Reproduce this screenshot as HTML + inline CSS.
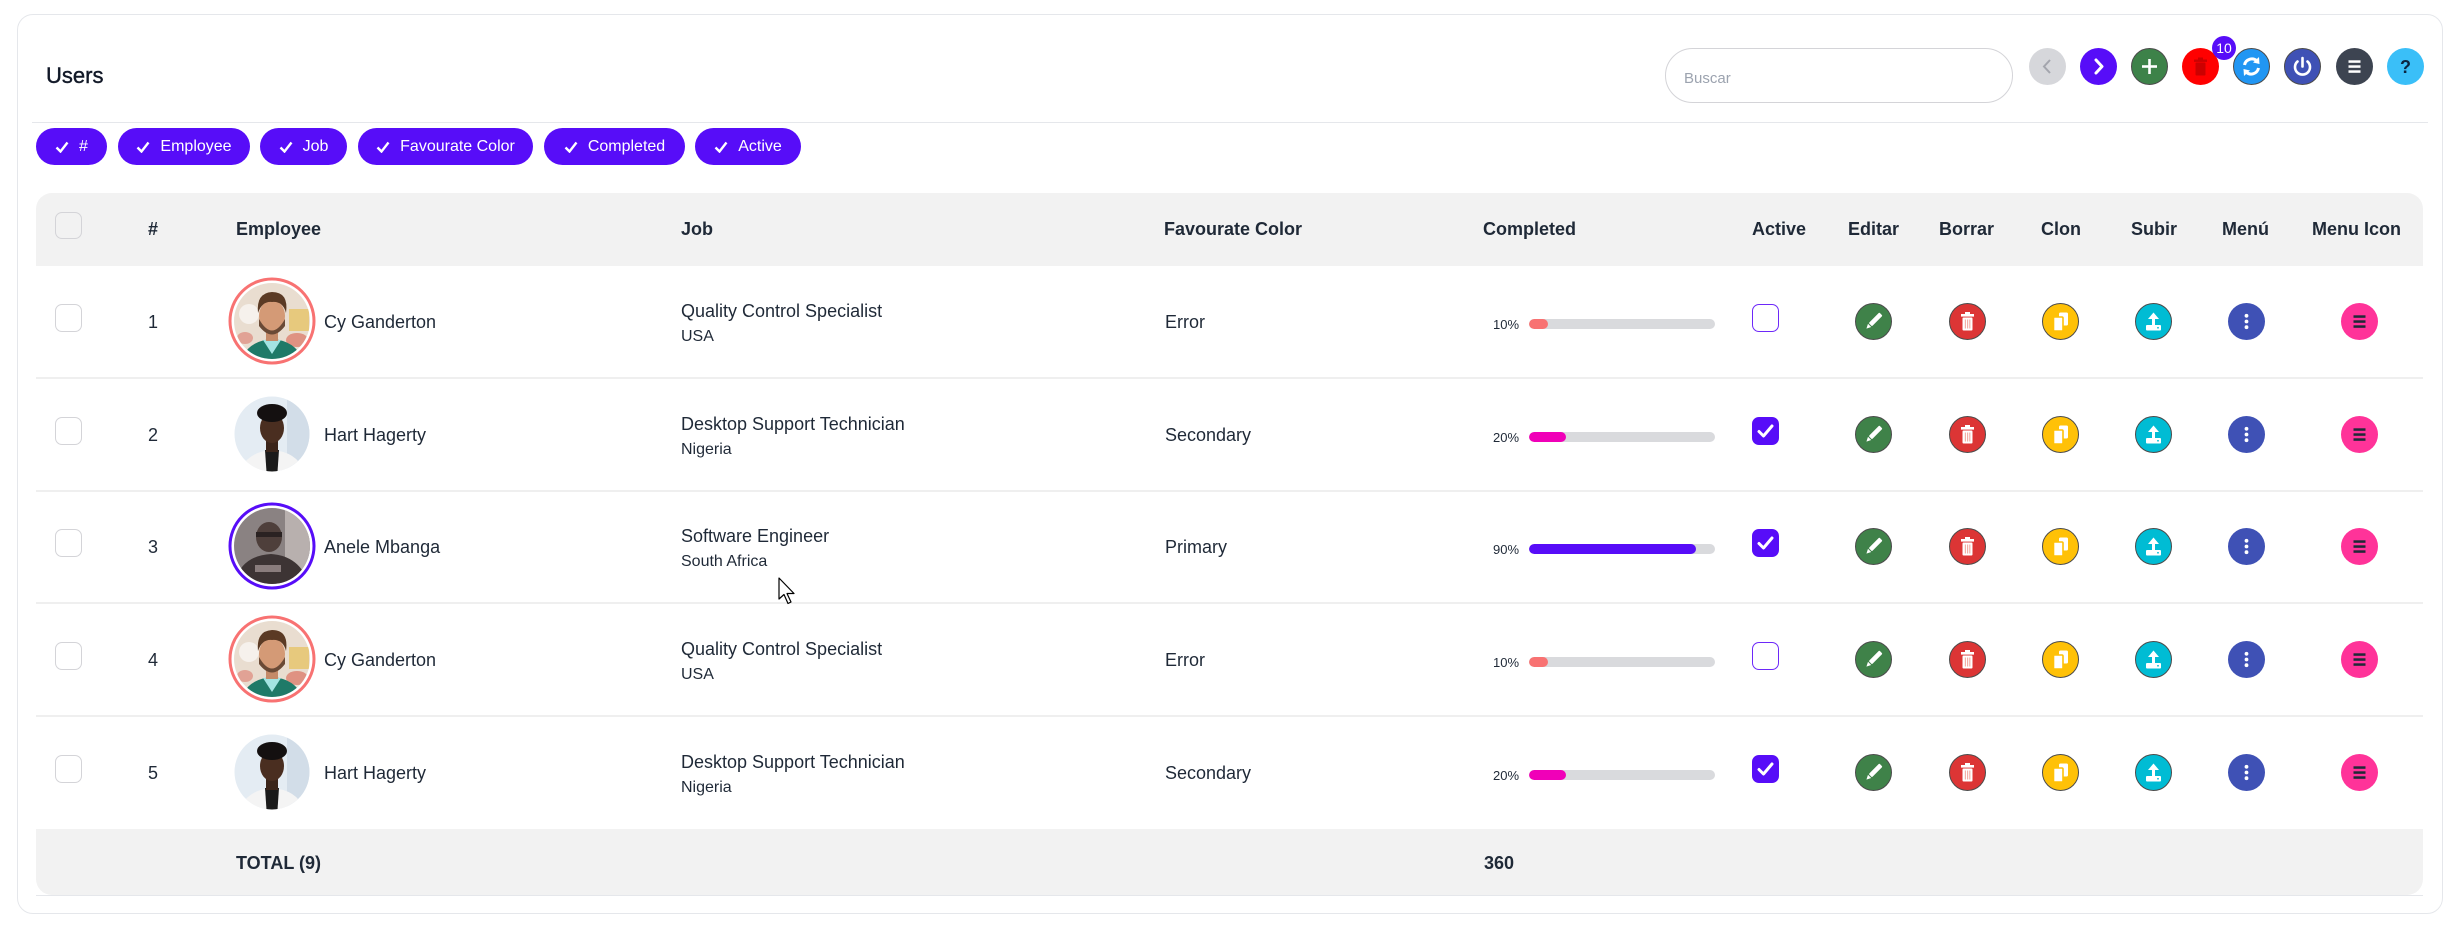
<!DOCTYPE html>
<html><head><meta charset="utf-8">
<style>
*{margin:0;padding:0;box-sizing:border-box}
html,body{width:2453px;height:929px;background:#fff;overflow:hidden}
body{font-family:"Liberation Sans",sans-serif;color:#1f2937;position:relative}
.a{position:absolute}
.t{position:absolute;line-height:1;white-space:nowrap}
.card{left:17px;top:14px;width:2426px;height:900px;border:1px solid #e5e7eb;border-radius:16px}
.chip{position:absolute;top:128px;height:37px;border-radius:19px;background:#570df8;color:#fff;font-size:16px;display:flex;align-items:center;justify-content:center;gap:10px;line-height:1}
.hd{font-size:18px;font-weight:bold;top:220px}
.row{position:absolute;left:0;width:2453px;height:113px}
.cb{position:absolute;left:55px;top:38px;width:27px;height:28px;border:1px solid #d4d4d8;border-radius:7px;background:#fff}
.acb{position:absolute;left:1752px;top:38px;width:27px;height:28px;border:1.5px solid #6d28f9;border-radius:7px;background:#fff}
.acb.on{background:#570df8;border-color:#570df8}
.r18{font-size:18px}
.bar{position:absolute;left:1529px;top:53px;width:186px;height:10px;border-radius:5px;background:#d9dadd;overflow:hidden}
.bar i{display:block;height:100%;border-radius:5px}
.sep{position:absolute;left:36px;width:2387px;height:2px;background:#efefef}
.ic{position:absolute;top:37px;width:37px;height:37px}
</style></head><body>
<svg width="0" height="0" style="position:absolute">
<defs>
<symbol id="ed" viewBox="0 0 37 37"><circle cx="18.5" cy="18.5" r="18" fill="#3f8249" stroke="#4b4b4b" stroke-width="1"/><g transform="rotate(45 18.5 18.5)"><rect x="16.2" y="8" width="4.6" height="15" rx="1" fill="#fff"/><polygon points="16.2,24 20.8,24 18.5,28.5" fill="#fff"/></g></symbol>
<symbol id="dl" viewBox="0 0 37 37"><circle cx="18.5" cy="18.5" r="18" fill="#dc3535" stroke="#4b4b4b" stroke-width="1"/><rect x="16" y="9" width="5" height="2.5" fill="#fff"/><rect x="12" y="11" width="13" height="2.6" fill="#fff"/><rect x="13.5" y="14.5" width="10" height="13" rx="1" fill="#fff"/><rect x="15.8" y="16.5" width="1.2" height="9" fill="#f3b1a8"/><rect x="18" y="16.5" width="1.2" height="9" fill="#f3b1a8"/><rect x="20.2" y="16.5" width="1.2" height="9" fill="#f3b1a8"/></symbol>
<symbol id="cl" viewBox="0 0 37 37"><circle cx="18.5" cy="18.5" r="18" fill="#ffc107" stroke="#4b4b4b" stroke-width="1"/><rect x="17" y="9.5" width="9" height="13" rx="1.5" fill="#fff"/><rect x="11.5" y="14" width="9.5" height="14" rx="1" fill="#fff" stroke="#ffc107" stroke-width="1.6"/></symbol>
<symbol id="up" viewBox="0 0 37 37"><circle cx="18.5" cy="18.5" r="18" fill="#00bcd4" stroke="#4b4b4b" stroke-width="1"/><polygon points="13,16 18.5,9.5 24,16" fill="#fff"/><rect x="17" y="14" width="3" height="8.5" fill="#fff"/><rect x="11" y="22" width="15" height="5.5" rx="1" fill="#fff"/><circle cx="23" cy="24.8" r="0.9" fill="#00bcd4"/></symbol>
<symbol id="mn" viewBox="0 0 37 37"><circle cx="18.5" cy="18.5" r="18.5" fill="#3f51b5"/><circle cx="18.5" cy="12.8" r="1.9" fill="#fff"/><circle cx="18.5" cy="18.5" r="1.9" fill="#fff"/><circle cx="18.5" cy="24.2" r="1.9" fill="#fff"/></symbol>
<symbol id="mi" viewBox="0 0 37 37"><circle cx="18.5" cy="18.5" r="18.5" fill="#ff3399"/><rect x="12.5" y="12.3" width="12" height="2.5" fill="#1f2937"/><rect x="12.5" y="17.3" width="12" height="2.5" fill="#1f2937"/><rect x="12.5" y="22.3" width="12" height="2.5" fill="#1f2937"/></symbol>
<symbol id="ck" viewBox="0 0 27 28"><polyline points="7,14.5 11.5,19 20,9" fill="none" stroke="#fff" stroke-width="3" stroke-linecap="round" stroke-linejoin="round"/></symbol>
<clipPath id="cp1"><circle cx="45" cy="45" r="38"/></clipPath>
<clipPath id="cp2"><circle cx="45" cy="45" r="37.5"/></clipPath>
<symbol id="av1" viewBox="0 0 90 90"><g clip-path="url(#cp1)"><rect width="90" height="90" fill="#e9ddd0"/><circle cx="22" cy="38" r="10" fill="#f6f1ec"/><rect x="62" y="33" width="20" height="22" fill="#e6c261" opacity=".75"/><ellipse cx="70" cy="64" rx="11" ry="7" fill="#d8604e" opacity=".6"/><ellipse cx="18" cy="62" rx="8" ry="6" fill="#d9685a" opacity=".5"/><path d="M12 90 Q18 65 45 63 Q72 65 78 90Z" fill="#1f7a68"/><path d="M36 64 L45 78 L54 64Z" fill="#a3e4e2"/><rect x="39" y="50" width="12" height="15" fill="#c48a68"/><ellipse cx="45" cy="40" rx="13" ry="16" fill="#d49a76"/><path d="M32 43 Q45 66 58 43 L58 50 Q45 67 32 50Z" fill="#6a4a36"/><path d="M31 37 Q29 17 45 16 Q62 16 59 37 Q56 25 45 26 Q35 25 31 37Z" fill="#5b3a24"/></g></symbol>
<symbol id="av2" viewBox="0 0 90 90"><g clip-path="url(#cp2)"><rect width="90" height="90" fill="#e4ecf3"/><rect x="60" y="0" width="30" height="90" fill="#d2dde8"/><path d="M10 90 Q16 63 45 61 Q74 63 80 90Z" fill="#f4f4f4"/><path d="M38 61 L52 61 L50 90 L40 90Z" fill="#1a1a1a"/><rect x="39" y="48" width="12" height="15" fill="#3b251a"/><ellipse cx="45" cy="39" rx="12" ry="15" fill="#4a2e20"/><ellipse cx="45" cy="24" rx="15" ry="9" fill="#141010"/></g></symbol>
<symbol id="av3" viewBox="0 0 90 90"><g clip-path="url(#cp1)"><rect width="90" height="90" fill="#8a8282"/><rect x="58" y="0" width="32" height="90" fill="#b8b0ae"/><path d="M6 90 Q10 55 44 53 Q76 55 84 90Z" fill="#3d3434"/><rect x="28" y="64" width="26" height="7" fill="#8a7d7d"/><ellipse cx="42" cy="36" rx="13" ry="15" fill="#4e3f3b"/><rect x="29" y="31" width="26" height="5" fill="#2a2222"/></g></symbol>
</defs></svg>

<div class="a card"></div>
<div class="t" style="left:46px;top:65px;font-size:22px;color:#111827;-webkit-text-stroke:0.4px #111827">Users</div>

<div class="a" style="left:1665px;top:48px;width:348px;height:55px;border:1px solid #d4d4d8;border-radius:28px"></div>
<div class="t" style="left:1684px;top:71px;font-size:15px;color:#9ca3af">Buscar</div>

<svg class="a" style="left:2029px;top:48px" width="37" height="37" viewBox="0 0 37 37"><circle cx="18.5" cy="18.5" r="18.5" fill="#d6d7db"/><polyline points="21,12 15,18.5 21,25" fill="none" stroke="#a3a5ad" stroke-width="2"/></svg>
<svg class="a" style="left:2080px;top:48px" width="37" height="37" viewBox="0 0 37 37"><circle cx="18.5" cy="18.5" r="18.5" fill="#570df8"/><polyline points="16,12 22,18.5 16,25" fill="none" stroke="#fff" stroke-width="3" stroke-linecap="round" stroke-linejoin="round"/></svg>
<svg class="a" style="left:2131px;top:48px" width="37" height="37" viewBox="0 0 37 37"><circle cx="18.5" cy="18.5" r="18" fill="#3d8249" stroke="#4b4b4b" stroke-width="1"/><rect x="17.2" y="11" width="2.6" height="15" fill="#fff"/><rect x="11" y="17.2" width="15" height="2.6" fill="#fff"/></svg>
<svg class="a" style="left:2182px;top:48px" width="37" height="37" viewBox="0 0 37 37"><circle cx="18.5" cy="18.5" r="18.5" fill="#ff0000"/><rect x="16" y="9.5" width="5" height="2" fill="#cc0000"/><rect x="12" y="11.5" width="13" height="2.4" fill="#cc0000"/><rect x="13.5" y="14.5" width="10" height="13" rx="1" fill="#cc0000"/></svg>
<svg class="a" style="left:2233px;top:48px" width="37" height="37" viewBox="0 0 37 37"><circle cx="18.5" cy="18.5" r="18" fill="#2196f3" stroke="#4b4b4b" stroke-width="1"/><path d="M11.5 17 A7.5 7.5 0 0 1 24 13" fill="none" stroke="#fff" stroke-width="3"/><polygon points="26,9 26.5,16 20,14.5" fill="#fff"/><path d="M25.5 20 A7.5 7.5 0 0 1 13 24" fill="none" stroke="#fff" stroke-width="3"/><polygon points="11,28 10.5,21 17,22.5" fill="#fff"/></svg>
<svg class="a" style="left:2284px;top:48px" width="37" height="37" viewBox="0 0 37 37"><circle cx="18.5" cy="18.5" r="18" fill="#3f51b5" stroke="#4b4b4b" stroke-width="1"/><path d="M13.5 13.5 A7.5 7.5 0 1 0 23.5 13.5" fill="none" stroke="#fff" stroke-width="2.6" stroke-linecap="round"/><line x1="18.5" y1="10" x2="18.5" y2="18.5" stroke="#fff" stroke-width="2.6" stroke-linecap="round"/></svg>
<svg class="a" style="left:2336px;top:48px" width="37" height="37" viewBox="0 0 37 37"><circle cx="18.5" cy="18.5" r="18.5" fill="#3d4451"/><rect x="12.5" y="12.3" width="12" height="2.5" fill="#fff"/><rect x="12.5" y="17.3" width="12" height="2.5" fill="#fff"/><rect x="12.5" y="22.3" width="12" height="2.5" fill="#fff"/></svg>
<svg class="a" style="left:2387px;top:48px" width="37" height="37" viewBox="0 0 37 37"><circle cx="18.5" cy="18.5" r="18.5" fill="#3abff8"/><text x="18.5" y="25" text-anchor="middle" font-family="Liberation Sans" font-weight="bold" font-size="18" fill="#0b2540">?</text></svg>
<div class="a" style="left:2212px;top:36px;width:24px;height:24px;border-radius:12px;background:#570df8;color:#fff;font-size:14px;line-height:24px;text-align:center">10</div>

<div class="a" style="left:32px;top:122px;width:2396px;height:1px;background:#e5e7eb"></div>

<div class="chip" style="left:36px;width:71px"><svg width="14" height="12" viewBox="0 0 14 12"><polyline points="1.5,6.5 5.5,10.5 12.5,1.5" fill="none" stroke="#fff" stroke-width="2.4"/></svg><span>#</span></div>
<div class="chip" style="left:118px;width:132px"><svg width="14" height="12" viewBox="0 0 14 12"><polyline points="1.5,6.5 5.5,10.5 12.5,1.5" fill="none" stroke="#fff" stroke-width="2.4"/></svg><span>Employee</span></div>
<div class="chip" style="left:260px;width:87px"><svg width="14" height="12" viewBox="0 0 14 12"><polyline points="1.5,6.5 5.5,10.5 12.5,1.5" fill="none" stroke="#fff" stroke-width="2.4"/></svg><span>Job</span></div>
<div class="chip" style="left:358px;width:175px"><svg width="14" height="12" viewBox="0 0 14 12"><polyline points="1.5,6.5 5.5,10.5 12.5,1.5" fill="none" stroke="#fff" stroke-width="2.4"/></svg><span>Favourate Color</span></div>
<div class="chip" style="left:544px;width:141px"><svg width="14" height="12" viewBox="0 0 14 12"><polyline points="1.5,6.5 5.5,10.5 12.5,1.5" fill="none" stroke="#fff" stroke-width="2.4"/></svg><span>Completed</span></div>
<div class="chip" style="left:695px;width:106px"><svg width="14" height="12" viewBox="0 0 14 12"><polyline points="1.5,6.5 5.5,10.5 12.5,1.5" fill="none" stroke="#fff" stroke-width="2.4"/></svg><span>Active</span></div>

<!-- table header -->
<div class="a" style="left:36px;top:193px;width:2387px;height:73px;background:#f2f2f2;border-radius:16px 16px 0 0"></div>
<div class="a" style="left:55px;top:212px;width:27px;height:27px;border:1px solid #d4d4d8;border-radius:7px"></div>
<div class="t hd" style="left:148px">#</div>
<div class="t hd" style="left:236px">Employee</div>
<div class="t hd" style="left:681px">Job</div>
<div class="t hd" style="left:1164px">Favourate Color</div>
<div class="t hd" style="left:1483px">Completed</div>
<div class="t hd" style="left:1752px">Active</div>
<div class="t hd" style="left:1848px">Editar</div>
<div class="t hd" style="left:1939px">Borrar</div>
<div class="t hd" style="left:2041px">Clon</div>
<div class="t hd" style="left:2131px">Subir</div>
<div class="t hd" style="left:2222px">Menú</div>
<div class="t hd" style="left:2312px">Menu Icon</div>

<!-- row 1 -->
<div class="row" style="top:266px">
<div class="cb"></div>
<div class="t r18" style="left:148px;top:47px">1</div>
<svg class="a" style="left:227px;top:10px" width="90" height="90" viewBox="0 0 90 90"><use href="#av1"/><circle cx="45" cy="45" r="42" fill="none" stroke="#f87272" stroke-width="3"/></svg>
<div class="t r18" style="left:324px;top:47px">Cy Ganderton</div>
<div class="t r18" style="left:681px;top:36px">Quality Control Specialist</div>
<div class="t" style="left:681px;top:63px;font-size:16px">USA</div>
<div class="t r18" style="left:1165px;top:47px">Error</div>
<div class="t" style="left:1493px;top:52px;font-size:13px">10%</div>
<div class="bar"><i style="width:10%;background:#f87272"></i></div>
<div class="acb"></div>
<svg class="ic" style="left:1855px"><use href="#ed"/></svg>
<svg class="ic" style="left:1949px"><use href="#dl"/></svg>
<svg class="ic" style="left:2042px"><use href="#cl"/></svg>
<svg class="ic" style="left:2135px"><use href="#up"/></svg>
<svg class="ic" style="left:2228px"><use href="#mn"/></svg>
<svg class="ic" style="left:2341px"><use href="#mi"/></svg>
</div>
<div class="sep" style="top:377px"></div>

<!-- row 2 -->
<div class="row" style="top:379px">
<div class="cb"></div>
<div class="t r18" style="left:148px;top:47px">2</div>
<svg class="a" style="left:227px;top:10px" width="90" height="90" viewBox="0 0 90 90"><use href="#av2"/></svg>
<div class="t r18" style="left:324px;top:47px">Hart Hagerty</div>
<div class="t r18" style="left:681px;top:36px">Desktop Support Technician</div>
<div class="t" style="left:681px;top:63px;font-size:16px">Nigeria</div>
<div class="t r18" style="left:1165px;top:47px">Secondary</div>
<div class="t" style="left:1493px;top:52px;font-size:13px">20%</div>
<div class="bar"><i style="width:20%;background:#f000b8"></i></div>
<div class="acb on"><svg width="27" height="28" style="position:absolute;left:-1.5px;top:-1.5px"><use href="#ck"/></svg></div>
<svg class="ic" style="left:1855px"><use href="#ed"/></svg>
<svg class="ic" style="left:1949px"><use href="#dl"/></svg>
<svg class="ic" style="left:2042px"><use href="#cl"/></svg>
<svg class="ic" style="left:2135px"><use href="#up"/></svg>
<svg class="ic" style="left:2228px"><use href="#mn"/></svg>
<svg class="ic" style="left:2341px"><use href="#mi"/></svg>
</div>
<div class="sep" style="top:490px"></div>

<!-- row 3 -->
<div class="row" style="top:491px">
<div class="cb"></div>
<div class="t r18" style="left:148px;top:47px">3</div>
<svg class="a" style="left:227px;top:10px" width="90" height="90" viewBox="0 0 90 90"><use href="#av3"/><circle cx="45" cy="45" r="42" fill="none" stroke="#570df8" stroke-width="3"/></svg>
<div class="t r18" style="left:324px;top:47px">Anele Mbanga</div>
<div class="t r18" style="left:681px;top:36px">Software Engineer</div>
<div class="t" style="left:681px;top:63px;font-size:16px">South Africa</div>
<div class="t r18" style="left:1165px;top:47px">Primary</div>
<div class="t" style="left:1493px;top:52px;font-size:13px">90%</div>
<div class="bar"><i style="width:90%;background:#570df8"></i></div>
<div class="acb on"><svg width="27" height="28" style="position:absolute;left:-1.5px;top:-1.5px"><use href="#ck"/></svg></div>
<svg class="ic" style="left:1855px"><use href="#ed"/></svg>
<svg class="ic" style="left:1949px"><use href="#dl"/></svg>
<svg class="ic" style="left:2042px"><use href="#cl"/></svg>
<svg class="ic" style="left:2135px"><use href="#up"/></svg>
<svg class="ic" style="left:2228px"><use href="#mn"/></svg>
<svg class="ic" style="left:2341px"><use href="#mi"/></svg>
</div>
<div class="sep" style="top:602px"></div>

<!-- row 4 -->
<div class="row" style="top:604px">
<div class="cb"></div>
<div class="t r18" style="left:148px;top:47px">4</div>
<svg class="a" style="left:227px;top:10px" width="90" height="90" viewBox="0 0 90 90"><use href="#av1"/><circle cx="45" cy="45" r="42" fill="none" stroke="#f87272" stroke-width="3"/></svg>
<div class="t r18" style="left:324px;top:47px">Cy Ganderton</div>
<div class="t r18" style="left:681px;top:36px">Quality Control Specialist</div>
<div class="t" style="left:681px;top:63px;font-size:16px">USA</div>
<div class="t r18" style="left:1165px;top:47px">Error</div>
<div class="t" style="left:1493px;top:52px;font-size:13px">10%</div>
<div class="bar"><i style="width:10%;background:#f87272"></i></div>
<div class="acb"></div>
<svg class="ic" style="left:1855px"><use href="#ed"/></svg>
<svg class="ic" style="left:1949px"><use href="#dl"/></svg>
<svg class="ic" style="left:2042px"><use href="#cl"/></svg>
<svg class="ic" style="left:2135px"><use href="#up"/></svg>
<svg class="ic" style="left:2228px"><use href="#mn"/></svg>
<svg class="ic" style="left:2341px"><use href="#mi"/></svg>
</div>
<div class="sep" style="top:715px"></div>

<!-- row 5 -->
<div class="row" style="top:717px">
<div class="cb"></div>
<div class="t r18" style="left:148px;top:47px">5</div>
<svg class="a" style="left:227px;top:10px" width="90" height="90" viewBox="0 0 90 90"><use href="#av2"/></svg>
<div class="t r18" style="left:324px;top:47px">Hart Hagerty</div>
<div class="t r18" style="left:681px;top:36px">Desktop Support Technician</div>
<div class="t" style="left:681px;top:63px;font-size:16px">Nigeria</div>
<div class="t r18" style="left:1165px;top:47px">Secondary</div>
<div class="t" style="left:1493px;top:52px;font-size:13px">20%</div>
<div class="bar"><i style="width:20%;background:#f000b8"></i></div>
<div class="acb on"><svg width="27" height="28" style="position:absolute;left:-1.5px;top:-1.5px"><use href="#ck"/></svg></div>
<svg class="ic" style="left:1855px"><use href="#ed"/></svg>
<svg class="ic" style="left:1949px"><use href="#dl"/></svg>
<svg class="ic" style="left:2042px"><use href="#cl"/></svg>
<svg class="ic" style="left:2135px"><use href="#up"/></svg>
<svg class="ic" style="left:2228px"><use href="#mn"/></svg>
<svg class="ic" style="left:2341px"><use href="#mi"/></svg>
</div>

<!-- footer -->
<div class="a" style="left:36px;top:829px;width:2387px;height:66px;background:#f2f2f2;border-radius:0 0 16px 16px"></div>
<div class="a" style="left:36px;top:895px;width:2387px;height:1px;background:#e5e7eb"></div>
<div class="t" style="left:236px;top:854px;font-size:18px;font-weight:bold">TOTAL (9)</div>
<div class="t" style="left:1484px;top:854px;font-size:18px;font-weight:bold">360</div>

<!-- cursor -->
<svg class="a" style="left:778px;top:577px" width="20" height="29" viewBox="0 0 20 29"><path d="M1 1 L1 22 L6 17.5 L10 26.5 L13 25 L9 16.5 L16 16.5 Z" fill="#fff" stroke="#000" stroke-width="1.2" stroke-linejoin="round"/></svg>
</body></html>
